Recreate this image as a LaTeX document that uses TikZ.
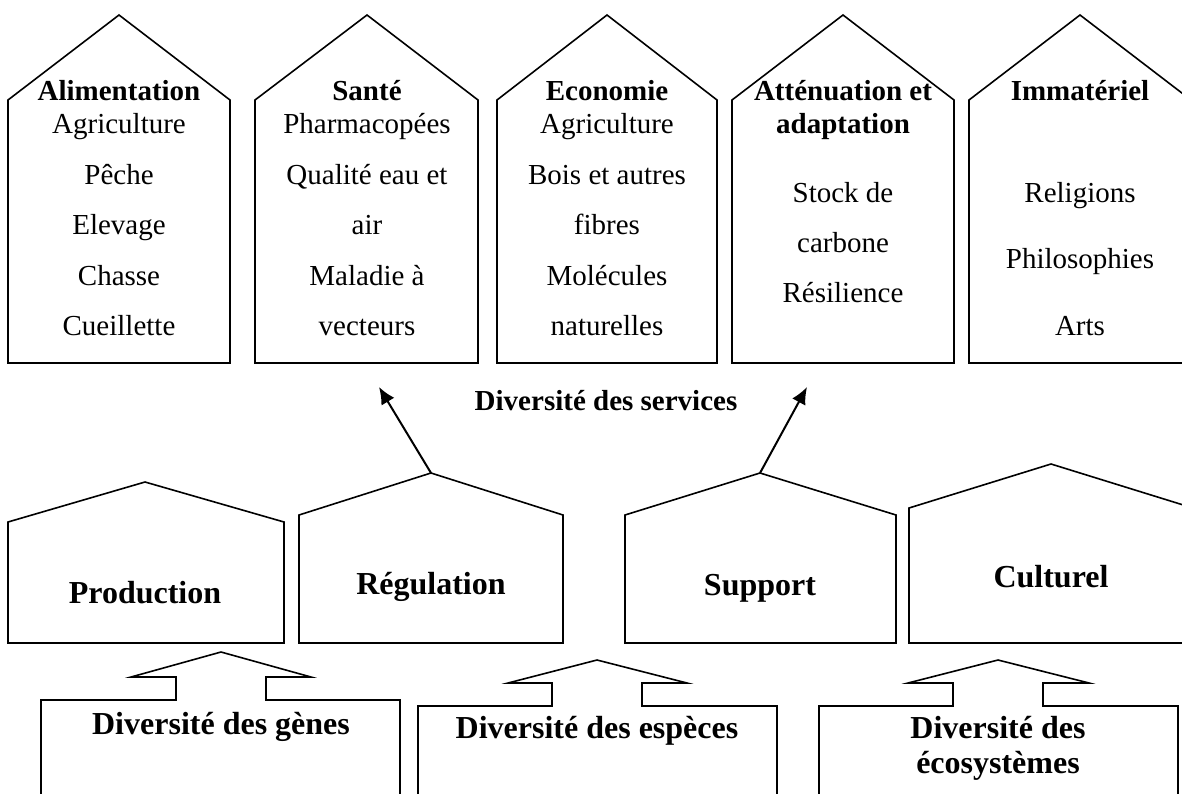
\documentclass[tikz,border=0pt]{standalone}
\usepackage{fontspec}
\setmainfont{Liberation Serif}
\usepackage{tikz}
\usetikzlibrary{arrows.meta}

\tikzset{
  bord/.style={draw, line width=0.8pt, line join=miter},
  titre/.style={font=\fontsize{14.5}{17}\selectfont\bfseries, anchor=base, inner sep=0pt},
  item/.style={font=\fontsize{14.5}{17}\selectfont, anchor=base, inner sep=0pt},
  gros/.style={font=\fontsize{16}{19}\selectfont\bfseries, anchor=base, inner sep=0pt},
  fleche/.style={line width=1pt, -{Latex[length=8.5pt,width=7.5pt]}},
}

\begin{document}
\begin{tikzpicture}[x=0.5pt,y=-0.5pt]
      \clip (0,0) rectangle (1182,793);

      % services (haut)
      \draw[bord] (8,363) -- (8,100) -- (119,15) -- (230,100) -- (230,363) -- cycle;
      \draw[bord] (255,363) -- (255,100) -- (367,15) -- (478,100) -- (478,363) -- cycle;
      \draw[bord] (497,363) -- (497,100) -- (607,15) -- (717,100) -- (717,363) -- cycle;
      \draw[bord] (732,363) -- (732,100) -- (843,15) -- (954,100) -- (954,363) -- cycle;
      \draw[bord] (969,363) -- (969,100) -- (1080,15) -- (1191,100) -- (1191,363) -- cycle;

      \node[titre] (al0) at (119,100){Alimentation};
      \node[item] (al1) at (119,133){Agriculture};
      \node[item] (al2) at (119,184){Pêche};
      \node[item] (al3) at (119,234){Elevage};
      \node[item] (al4) at (119,285){Chasse};
      \node[item] (al5) at (119,335){Cueillette};

      \node[titre] (sa0) at (367,100){Santé};
      \node[item] (sa1) at (367,133){Pharmacopées};
      \node[item] (sa2) at (367,184){Qualité eau et};
      \node[item] (sa3) at (367,234){air};
      \node[item] (sa4) at (367,285){Maladie à};
      \node[item] (sa5) at (367,335){vecteurs};

      \node[titre] (ec0) at (607,100){Economie};
      \node[item] (ec1) at (607,133){Agriculture};
      \node[item] (ec2) at (607,184){Bois et autres};
      \node[item] (ec3) at (607,234){fibres};
      \node[item] (ec4) at (607,285){Molécules};
      \node[item] (ec5) at (607,335){naturelles};

      \node[titre] (at0) at (843,100){Atténuation et};
      \node[titre] (at1) at (843,133){adaptation};
      \node[item] (at2) at (843,202){Stock de};
      \node[item] (at3) at (843,252){carbone};
      \node[item] (at4) at (843,302){Résilience};

      \node[titre] (im0) at (1080,100){Immatériel};
      \node[item] (im1) at (1080,202){Religions};
      \node[item] (im2) at (1080,268){Philosophies};
      \node[item] (im3) at (1080,335){Arts};

      \node[titre] (serv) at (606,410){Diversité des services};

      % fonctions (milieu)
      \draw[bord] (8,643) -- (8,522) -- (145,482) -- (284,522) -- (284,643) -- cycle;
      \draw[bord] (299,643) -- (299,515) -- (431,473) coordinate (regtop) -- (563,515) -- (563,643) -- cycle;
      \draw[bord] (625,643) -- (625,515) -- (760,473) coordinate (suptop) -- (896,515) -- (896,643) -- cycle;
      \draw[bord] (909,643) -- (909,508) -- (1051,464) -- (1193,508) -- (1193,643) -- cycle;

      \node[gros] (prod) at (145,603){Production};
      \node[gros] (regul) at (431,594){Régulation};
      \node[gros] (supp) at (760,595){Support};
      \node[gros] (cult) at (1051,587){Culturel};

      \coordinate (cible1) at (379,387);
      \coordinate (cible2) at (807,387);
      \draw[fleche] (regtop) -- (cible1);
      \draw[fleche] (suptop) -- (cible2);

      % diversites (bas)
      \draw[bord] (41,800) -- (41,700) -- (176,700) -- (176,677) -- (131,677) -- (221,652)
        -- (311,677) -- (266,677) -- (266,700) -- (400,700) -- (400,800);
      \draw[bord] (418,800) -- (418,706) -- (552,706) -- (552,683) -- (508,683) -- (597,660)
        -- (687,683) -- (642,683) -- (642,706) -- (777,706) -- (777,800);
      \draw[bord] (819,800) -- (819,706) -- (953,706) -- (953,683) -- (908,683) -- (998,660)
        -- (1089,683) -- (1043,683) -- (1043,706) -- (1178,706) -- (1178,800);

      \node[gros] (genes) at (221,734){Diversité des gènes};
      \node[gros] (especes) at (597,738){Diversité des espèces};
      \node[gros] (ecos1) at (998,738){Diversité des};
      \node[gros] (ecos2) at (998,773){écosystèmes};
    \end{tikzpicture}
\end{document}
